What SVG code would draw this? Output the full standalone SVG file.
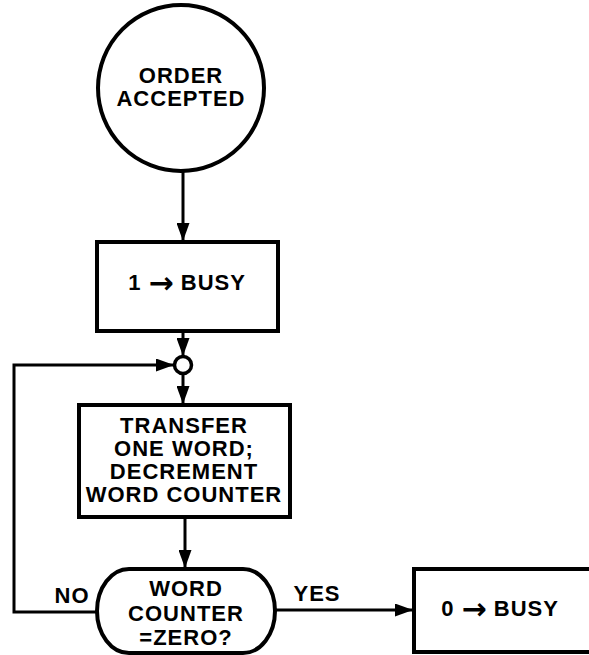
<svg xmlns="http://www.w3.org/2000/svg" width="589" height="655" viewBox="0 0 589 655">
<style>
.shape{fill:#fff;stroke:#000;stroke-width:4}
.line{fill:none;stroke:#000;stroke-width:3}
text{font-family:"Liberation Sans",Arial,sans-serif;font-weight:bold;font-size:22px;fill:#000;text-anchor:middle;dominant-baseline:central;letter-spacing:1px}
.ar{font-family:"DejaVu Sans",sans-serif;font-size:30px;letter-spacing:0}
</style>
<defs>
<marker id="arr" markerWidth="18" markerHeight="13" refX="18" refY="6.5" orient="auto" markerUnits="userSpaceOnUse">
<path d="M0,0 L18,6.5 L0,13 Z" fill="#000"/>
</marker>
</defs>
<rect width="589" height="655" fill="#fff"/>
<g id="connectors">
<line class="line" x1="183" y1="171" x2="183" y2="241" marker-end="url(#arr)"/>
<line class="line" x1="183" y1="331" x2="183" y2="356" marker-end="url(#arr)"/>
<line class="line" x1="183" y1="374" x2="183" y2="404" marker-end="url(#arr)"/>
<line class="line" x1="185" y1="517" x2="185" y2="568" marker-end="url(#arr)"/>
<polyline class="line" points="97,612 14,612 14,365 174,365" marker-end="url(#arr)"/>
<line class="line" x1="275" y1="610" x2="413" y2="610" marker-end="url(#arr)"/>
<text x="72" y="595">NO</text>
<text x="317" y="593">YES</text>
</g>
<g id="order-accepted">
<circle class="shape" cx="181" cy="88" r="83"/>
<text x="181" y="75">ORDER</text>
<text x="181" y="98">ACCEPTED</text>
</g>
<g id="set-busy">
<rect class="shape" x="97" y="242" width="181" height="89"/>
<text x="187" y="282">1 <tspan class="ar">→</tspan> BUSY</text>
</g>
<g id="junction">
<circle cx="183" cy="365" r="8.5" fill="#fff" stroke="#000" stroke-width="3.5"/>
</g>
<g id="transfer">
<rect class="shape" x="79" y="405" width="211" height="112"/>
<text x="184" y="425">TRANSFER</text>
<text x="184" y="448">ONE WORD;</text>
<text x="184" y="471">DECREMENT</text>
<text x="184" y="494">WORD COUNTER</text>
</g>
<g id="decision">
<rect class="shape" x="97" y="569" width="178" height="84" rx="32" ry="42"/>
<text x="186" y="588">WORD</text>
<text x="186" y="613">COUNTER</text>
<text x="186" y="637">=ZERO?</text>
</g>
<g id="clear-busy">
<rect class="shape" x="414" y="569" width="190" height="83"/>
<text x="500" y="608">0 <tspan class="ar">→</tspan> BUSY</text>
</g>
</svg>
